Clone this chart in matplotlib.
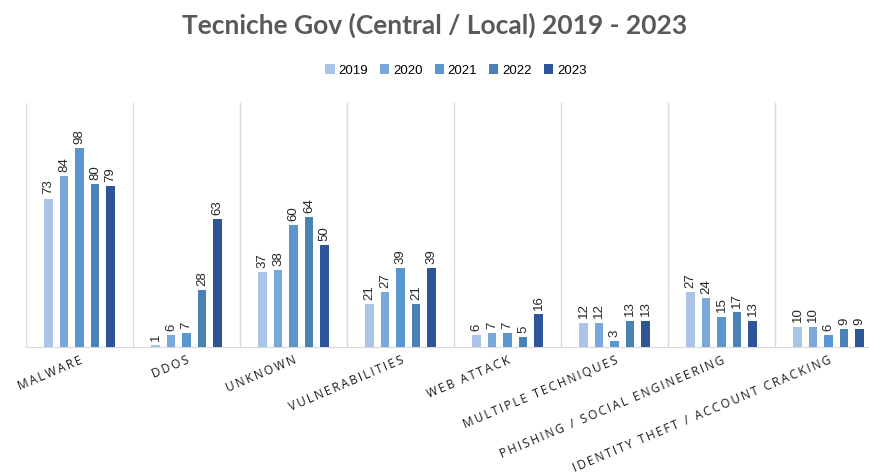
import numpy as np
import matplotlib
matplotlib.use("Agg")
import matplotlib.pyplot as plt

CATEGORIES = ["MALWARE", "DDOS", "UNKNOWN", "VULNERABILITIES", "WEB ATTACK",
              "MULTIPLE TECHNIQUES", "PHISHING / SOCIAL ENGINEERING",
              "IDENTITY THEFT / ACCOUNT CRACKING"]
YEARS = ["2019", "2020", "2021", "2022", "2023"]
V2019 = [73, 1, 37, 21, 6, 12, 27, 10]
V2020 = [84, 6, 38, 27, 7, 12, 24, 10]
V2021 = [98, 7, 60, 39, 7, 3, 15, 6]
V2022 = [80, 28, 64, 21, 5, 13, 17, 9]
V2023 = [79, 63, 50, 39, 16, 13, 13, 9]
SERIES = [V2019, V2020, V2021, V2022, V2023]
COLOURS = ["#a9c4e6", "#7ba8db", "#5b97cf", "#4a82b6", "#2e5597"]

THIN = "\u2009"


def spaced(s):
    return THIN.join(s)


fig = plt.figure(figsize=(8.7, 4.76), dpi=100)
ax = fig.add_axes([26 / 870, 129 / 476, 856 / 870, 244 / 476])

x = np.arange(len(CATEGORIES))
step = 0.145
width = 0.08
for i, (year, vals, col) in enumerate(zip(YEARS, SERIES, COLOURS)):
    pos = x + (i - 2) * step
    bars = ax.bar(pos, vals, width, color=col, label=year, zorder=3)
    for b, v in zip(bars, vals):
        ax.annotate(str(v), (b.get_x() + b.get_width() / 2, v),
                    xytext=(0, 3), textcoords="offset points",
                    rotation=90, ha="center", va="bottom",
                    fontsize=9.5, family="Liberation Sans", color="#262626")

ax.set_xlim(-0.5, len(CATEGORIES) - 0.5)
ax.set_ylim(0, 120)
for b in np.arange(-0.5, len(CATEGORIES) + 0.5, 1.0):
    ax.axvline(b, color="#d9d9d9", lw=1.0, zorder=1)
for s in ["top", "right", "left"]:
    ax.spines[s].set_visible(False)
ax.spines["bottom"].set_color("#d9d9d9")
ax.set_yticks([])
ax.set_xticks(x)
ax.tick_params(axis="x", length=0, pad=5)
ax.set_xticklabels([spaced(c) for c in CATEGORIES], rotation=23,
                   ha="right", rotation_mode="anchor",
                   fontsize=8.6, family=["Open Sans", "DejaVu Sans"],
                   color="#1a1a1a")

fig.text(0.5, 0.947, "Tecniche Gov (Central / Local) 2019 - 2023",
         ha="center", va="center", fontsize=19, fontweight="bold",
         family="Lato", color="#595959")
fig.legend(loc="center", bbox_to_anchor=(0.524, 0.852), ncol=5, frameon=False,
           prop={"family": "Liberation Sans", "size": 9.5},
           handlelength=0.7, handleheight=0.7, handletextpad=0.3,
           columnspacing=0.9)

fig.savefig("out.png", dpi=100)
